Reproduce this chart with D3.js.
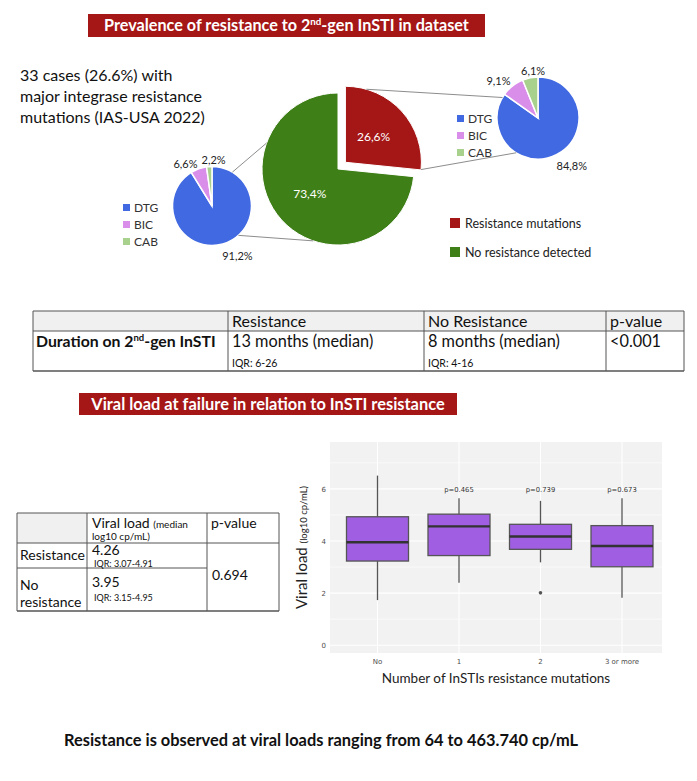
<!DOCTYPE html>
<html><head><meta charset="utf-8">
<script src="https://cdn.jsdelivr.net/npm/d3@7"></script>
<style>body{margin:0;background:#fff}svg{display:block}</style>
</head><body><svg id="c" width="697" height="781"></svg>
<script>
// ---------- DATA ----------
const mainLabels = ["Resistance mutations", "No resistance detected"];
const mainValues = [26.6, 73.4];
const subLabels = ["DTG", "BIC", "CAB"];
const noResistanceSub = [91.2, 6.6, 2.2];
const resistanceSub = [84.8, 9.1, 6.1];

const durationHeader = ["", "Resistance", "No Resistance", "p-value"];
const durationRow = ["13 months (median)", "8 months (median)", "<0.001"];
const durationIQR = ["IQR: 6-26", "IQR: 4-16"];

const vlGroups = ["Resistance", "No resistance"];
const vlMedian = ["4.26", "3.95"];
const vlIQR = ["IQR: 3.07-4.91", "IQR: 3.15-4.95"];
const vlPvalue = "0.694";

const boxCats = ["No", "1", "2", "3 or more"];
const boxLow  = [1.73, 2.40, 3.18, 1.82];
const boxQ1   = [3.23, 3.44, 3.68, 3.01];
const boxMed  = [3.95, 4.56, 4.17, 3.81];
const boxQ3   = [4.93, 5.03, 4.64, 4.59];
const boxHigh = [6.51, 5.64, 5.54, 5.64];
const boxOutliers = [{cat: "2", v: 2.01}];
const boxP = ["", "p=0.465", "p=0.739", "p=0.673"];
const yTicks = [0, 2, 4, 6];

// ---------- STYLE ----------
const F = "Lato, 'Open Sans', sans-serif";
const RED = "#A51616", GREEN = "#3F7F17";
const subColors = ["#4169E1", "#D98EEA", "#A9D18E"];
const svg = d3.select("#c");
svg.append("rect").attr("width", 697).attr("height", 781).attr("fill", "#fff");
const pct = v => d3.format(".1f")(v).replace(".", ",") + "%";
const rad = a => a * Math.PI / 180;
const polar = (cx, cy, a, r) => [cx + r * Math.sin(rad(a)), cy - r * Math.cos(rad(a))];

// ---------- Banners ----------
function banner(x, y, w, h, fs, parts) {
  svg.append("rect").attr("x", x).attr("y", y).attr("width", w).attr("height", h).attr("fill", RED);
  const t = svg.append("text").attr("x", x + w / 2).attr("y", y + h / 2 + fs * 0.36).attr("text-anchor", "middle")
    .attr("fill", "#fff").attr("font-family", F).attr("font-weight", "bold").attr("font-size", fs);
  parts.forEach(p => {
    const ts = t.append("tspan").text(p.t);
    if (p.sup) ts.attr("font-size", fs * 0.6).attr("dy", -6);
    if (p.after) ts.attr("dy", 6);
  });
}
banner(88, 14, 397, 23, 16.2, [{t: "Prevalence of resistance to 2"}, {t: "nd", sup: true}, {t: "-gen InSTI in dataset", after: true}]);

// ---------- left text ----------
["33 cases (26.6%) with", "major integrase resistance", "mutations (IAS-USA 2022)"].forEach((s, i) => {
  svg.append("text").attr("x", 20).attr("y", 81 + i * 21).attr("font-family", F).attr("font-size", 16)
    .attr("fill", "#111").text(s);
});

// ---------- main pie ----------
const mcx = 338, mcy = 169, mr = 76, explode = 10;
const pie = d3.pie().sort(null).startAngle(0).endAngle(2 * Math.PI);
const mainArcs = pie(mainValues);
const arcM = d3.arc().innerRadius(0).outerRadius(mr);
const gM = svg.append("g");
mainArcs.forEach((a, i) => {
  const mid = (a.startAngle + a.endAngle) / 2;
  const off = i === 0 ? explode : 0;
  const dx = off * Math.sin(mid), dy = -off * Math.cos(mid);
  const g = gM.append("g").attr("transform", `translate(${mcx + dx},${mcy + dy})`);
  g.append("path").attr("d", arcM(a)).attr("fill", i === 0 ? RED : GREEN).attr("stroke", "#fff").attr("stroke-width", 1);
  const c = arcM.centroid(a);
  g.append("text").attr("x", c[0]).attr("y", c[1] + 4).attr("text-anchor", "middle").attr("fill", "#fff")
    .attr("font-family", F).attr("font-size", 12).text(pct(mainValues[i]));
});
const redMid = (mainArcs[0].startAngle + mainArcs[0].endAngle) / 2;
const rcx = mcx + explode * Math.sin(redMid), rcy = mcy - explode * Math.cos(redMid);

// ---------- small pies ----------
function smallPie(cx, cy, r, vals, labelPolar) {
  const arcs = pie(vals);
  const arc = d3.arc().innerRadius(0).outerRadius(r);
  const g = svg.append("g").attr("transform", `translate(${cx},${cy})`);
  arcs.forEach((a, i) => {
    g.append("path").attr("d", arc(a)).attr("fill", subColors[i]).attr("stroke", "#fff").attr("stroke-width", 1.5);
  });
  arcs.forEach((a, i) => {
    const p = polar(0, 0, labelPolar[i][0], labelPolar[i][1]);
    g.append("text").attr("x", p[0]).attr("y", p[1] + 4).attr("text-anchor", "middle").attr("fill", "#222")
      .attr("font-family", F).attr("font-size", 11).text(pct(vals[i]));
  });
}
const lcx = 212, lcy = 206, lr = 39.5;
const qcx = 538, qcy = 118, qr = 41;
smallPie(lcx, lcy, lr, noResistanceSub, [[153, 56], [328, 50], [2, 46]]);
smallPie(qcx, qcy, qr, resistanceSub, [[145, 59], [313, 54], [354, 47]]);

// connector lines
function conn(p1, p2) {
  svg.append("line").attr("x1", p1[0]).attr("y1", p1[1]).attr("x2", p2[0]).attr("y2", p2[1])
    .attr("stroke", "#7f7f7f").attr("stroke-width", 0.9);
}
conn(polar(lcx, lcy, 31, lr), polar(mcx, mcy, 290, mr));
conn(polar(lcx, lcy, 138, lr), polar(mcx, mcy, 199, mr));
conn(polar(rcx, rcy, 16, mr), polar(qcx, qcy, 300, qr));
conn(polar(rcx, rcy, 95.5, mr), polar(qcx, qcy, 212, qr));

// small legends
function smallLegend(x, y0) {
  subLabels.forEach((s, i) => {
    svg.append("rect").attr("x", x).attr("y", y0 + i * 17 - 4).attr("width", 7).attr("height", 7).attr("fill", subColors[i]);
    svg.append("text").attr("x", x + 11).attr("y", y0 + i * 17 + 3.5).attr("font-family", F).attr("font-size", 12)
      .attr("fill", "#333").text(s);
  });
}
smallLegend(123, 208);
smallLegend(457, 119);

// main legend
mainLabels.forEach((s, i) => {
  const y = 223 + i * 29;
  svg.append("rect").attr("x", 450).attr("y", y - 5).attr("width", 10).attr("height", 10).attr("fill", i === 0 ? RED : GREEN);
  svg.append("text").attr("x", 465).attr("y", y + 4.5).attr("font-family", F).attr("font-size", 12.5)
    .attr("fill", "#222").text(s);
});

// ---------- Table 1 ----------
(function () {
  const xs = [33, 228, 424, 606, 684], ys = [311, 331, 371];
  const g = svg.append("g").attr("font-family", F).attr("fill", "#111");
  g.append("rect").attr("x", xs[0]).attr("y", ys[0]).attr("width", xs[4] - xs[0]).attr("height", ys[1] - ys[0]).attr("fill", "#F0F0F0");
  const ln = (x1, y1, x2, y2, w) => g.append("line").attr("x1", x1).attr("y1", y1).attr("x2", x2).attr("y2", y2)
    .attr("stroke", "#555").attr("stroke-width", w || 1);
  ln(xs[0], ys[0], xs[4], ys[0], 1.2); ln(xs[0], ys[2], xs[4], ys[2], 1.6); ln(xs[0], ys[1], xs[4], ys[1]);
  xs.forEach(x => ln(x, ys[0], x, ys[2]));
  durationHeader.forEach((h, i) => {
    if (h) g.append("text").attr("x", xs[i] + 4).attr("y", ys[0] + 15.5).attr("font-size", 16).text(h);
  });
  const t = g.append("text").attr("x", xs[0] + 3).attr("y", 347).attr("font-size", 15.8).attr("font-weight", "bold");
  t.append("tspan").text("Duration on 2");
  t.append("tspan").text("nd").attr("font-size", 9.5).attr("dy", -6);
  t.append("tspan").text("-gen InSTI").attr("dy", 6);
  durationRow.forEach((s, i) => {
    g.append("text").attr("x", xs[i + 1] + 4).attr("y", 347).attr("font-size", 16.3).text(s);
  });
  durationIQR.forEach((s, i) => {
    g.append("text").attr("x", xs[i + 1] + 4).attr("y", 366.5).attr("font-size", 10.5).text(s);
  });
})();

// ---------- Banner 2 ----------
banner(79, 393, 378, 22, 16.4, [{t: "Viral load at failure in relation to InSTI resistance"}]);

// ---------- Table 2 ----------
(function () {
  const xs = [17, 87, 207, 279], ys = [513, 543, 568, 611];
  const g = svg.append("g").attr("font-family", F).attr("fill", "#111");
  g.append("rect").attr("x", xs[0]).attr("y", ys[0]).attr("width", xs[1] - xs[0]).attr("height", ys[1] - ys[0]).attr("fill", "#F0F0F0");
  const ln = (x1, y1, x2, y2, w) => g.append("line").attr("x1", x1).attr("y1", y1).attr("x2", x2).attr("y2", y2)
    .attr("stroke", "#555").attr("stroke-width", w || 1);
  ln(xs[0], ys[0], xs[3], ys[0]); ln(xs[0], ys[1], xs[3], ys[1]); ln(xs[0], ys[2], xs[2], ys[2]); ln(xs[0], ys[3], xs[3], ys[3], 1.4);
  xs.forEach(x => ln(x, ys[0], x, ys[3]));
  const h = g.append("text").attr("x", xs[1] + 5).attr("y", 528).attr("font-size", 14);
  h.append("tspan").text("Viral load ");
  h.append("tspan").text("(median").attr("font-size", 10);
  g.append("text").attr("x", xs[1] + 5).attr("y", 540).attr("font-size", 10).text("log10 cp/mL)");
  g.append("text").attr("x", xs[2] + 4).attr("y", 528).attr("font-size", 14).text("p-value");
  g.append("text").attr("x", xs[0] + 3).attr("y", 560).attr("font-size", 14).text(vlGroups[0]);
  g.append("text").attr("x", xs[0] + 3).attr("y", 590).attr("font-size", 14).text("No");
  g.append("text").attr("x", xs[0] + 3).attr("y", 607).attr("font-size", 14).text("resistance");
  [[555, 566.5], [587, 601]].forEach((yy, i) => {
    g.append("text").attr("x", xs[1] + 5).attr("y", yy[0]).attr("font-size", 14).text(vlMedian[i]);
    g.append("text").attr("x", xs[1] + 7).attr("y", yy[1]).attr("font-size", 9).text(vlIQR[i]);
  });
  g.append("text").attr("x", xs[2] + 5).attr("y", 580).attr("font-size", 14).text(vlPvalue);
})();

// ---------- Box plot ----------
(function () {
  const pl = 330, pr = 662, pt = 442, pb = 653;
  const y = d3.scaleLinear().domain([-0.3, 7.8]).range([pb, pt]);
  const x = d3.scalePoint().domain(boxCats).range([377.5, 622]);
  const bw = 62;
  const g = svg.append("g");
  g.append("rect").attr("x", pl).attr("y", pt).attr("width", pr - pl).attr("height", pb - pt).attr("fill", "#F2F2F2");
  [1, 3, 5, 7].forEach(v => g.append("line").attr("x1", pl).attr("x2", pr).attr("y1", y(v)).attr("y2", y(v))
    .attr("stroke", "#fff").attr("stroke-width", 0.6));
  yTicks.forEach(v => g.append("line").attr("x1", pl).attr("x2", pr).attr("y1", y(v)).attr("y2", y(v))
    .attr("stroke", "#fff").attr("stroke-width", 1.1));
  boxCats.forEach(c => g.append("line").attr("x1", x(c)).attr("x2", x(c)).attr("y1", pt).attr("y2", pb)
    .attr("stroke", "#fff").attr("stroke-width", 1.1));
  const TF = "'DejaVu Sans', sans-serif";
  yTicks.forEach(v => g.append("text").attr("x", 326).attr("y", y(v) + 3).attr("text-anchor", "end")
    .attr("font-family", TF).attr("font-size", 7).attr("fill", "#4d4d4d").text(v));
  boxCats.forEach(c => g.append("text").attr("x", x(c)).attr("y", 664).attr("text-anchor", "middle")
    .attr("font-family", TF).attr("font-size", 7).attr("fill", "#4d4d4d").text(c));
  boxCats.forEach((c, i) => {
    const cx = x(c);
    g.append("line").attr("x1", cx).attr("x2", cx).attr("y1", y(boxHigh[i])).attr("y2", y(boxQ3[i])).attr("stroke", "#555").attr("stroke-width", 1.3);
    g.append("line").attr("x1", cx).attr("x2", cx).attr("y1", y(boxQ1[i])).attr("y2", y(boxLow[i])).attr("stroke", "#555").attr("stroke-width", 1.3);
    g.append("rect").attr("x", cx - bw / 2).attr("y", y(boxQ3[i])).attr("width", bw).attr("height", y(boxQ1[i]) - y(boxQ3[i]))
      .attr("fill", "#A05EE2").attr("stroke", "#555").attr("stroke-width", 1.3);
    g.append("line").attr("x1", cx - bw / 2).attr("x2", cx + bw / 2).attr("y1", y(boxMed[i])).attr("y2", y(boxMed[i]))
      .attr("stroke", "#333").attr("stroke-width", 2.4);
    if (boxP[i]) g.append("text").attr("x", cx).attr("y", y(6) + 3).attr("text-anchor", "middle")
      .attr("font-family", TF).attr("font-size", 6.8).attr("fill", "#333").text(boxP[i]);
  });
  boxOutliers.forEach(o => g.append("circle").attr("cx", x(o.cat)).attr("cy", y(o.v)).attr("r", 1.8).attr("fill", "#555"));
  const yt = g.append("text").attr("transform", `translate(307,${(pt + pb) / 2}) rotate(-90)`).attr("text-anchor", "middle")
    .attr("font-family", F).attr("fill", "#222");
  yt.append("tspan").text("Viral load ").attr("font-size", 15);
  yt.append("tspan").text("(log10 cp/mL)").attr("font-size", 9.5);
  g.append("text").attr("x", (pl + pr) / 2).attr("y", 683).attr("text-anchor", "middle").attr("font-family", F)
    .attr("font-size", 13.5).attr("fill", "#222").text("Number of InSTIs resistance mutations");
})();

// ---------- bottom note ----------
svg.append("text").attr("x", 64).attr("y", 746).attr("font-family", F).attr("font-weight", "bold").attr("font-size", 16.4)
  .attr("fill", "#111").text("Resistance is observed at viral loads ranging from 64 to 463.740 cp/mL");
</script></body></html>
